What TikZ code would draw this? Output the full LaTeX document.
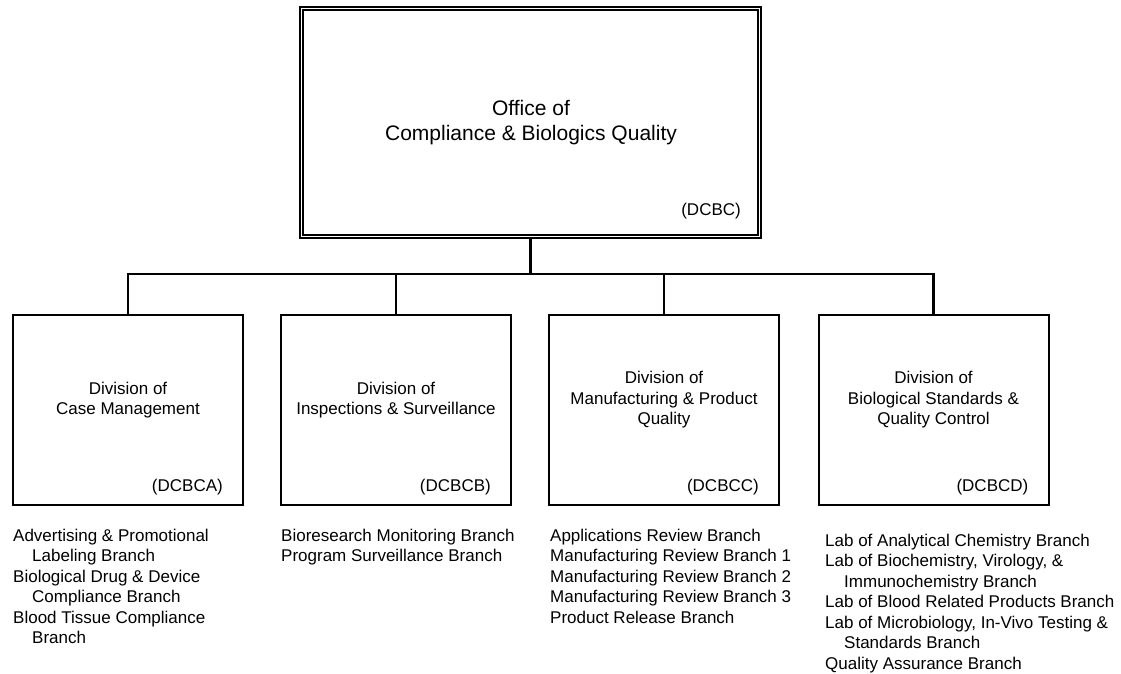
\documentclass[tikz,border=0pt]{standalone}
\usepackage{fontspec}
\setmainfont{Liberation Sans}
\begin{document}
\begin{tikzpicture}[x=1pt,y=-1pt,
  boxline/.style={draw=black,line width=2pt},
  divbox/.style={boxline,minimum width=230pt,minimum height=190pt,inner sep=0pt},
  title/.style={align=center,inner sep=0pt,font=\fontsize{17}{20.5}\selectfont},
  codelbl/.style={anchor=base east,inner sep=0pt,font=\fontsize{17}{20.5}\selectfont},
  branchlist/.style={anchor=base west,inner sep=0pt,font=\fontsize{17}{20.5}\selectfont},
  link/.style={draw=black,line width=2.2pt}]
\useasboundingbox (0,0) rectangle (1121,673);
\newcommand{\ind}{\hspace*{19pt}}

% Office box with double frame
\node[boxline,minimum width=461pt,minimum height=231pt,inner sep=0pt] (office) at (530.5,122.5) {};
\draw[line width=1.5pt] ([shift={(4,4)}]office.north west) rectangle ([shift={(-4,-4)}]office.south east);
\node[align=center,inner sep=0pt,font=\fontsize{21}{25}\selectfont] (officetitle) at (531,123)
  {Office of\\Compliance \& Biologics Quality};
\node[anchor=base east,inner sep=0pt,font=\fontsize{17}{20.5}\selectfont] (officecode)
  at ([shift={(-21,-24)}]office.south east) {(DCBC)};

% Division boxes
\node[divbox] (dA) at (128,410) {};
\node[divbox] (dB) at (396,410) {};
\node[divbox] (dC) at (664,410) {};
\node[divbox] (dD) at (933.5,410) {};

\node[title] (tA) at ([yshift=10]dA.center) {Division of\\Case Management};
\node[title] (tB) at ([yshift=10]dB.center) {Division of\\Inspections \& Surveillance};
\node[title] (tC) at ([yshift=10]dC.center) {Division of\\Manufacturing \& Product\\Quality};
\node[title] (tD) at ([yshift=10]dD.center) {Division of\\Biological Standards \&\\Quality Control};

\node[codelbl] (cA) at ([shift={(-21,-15)}]dA.south east) {(DCBCA)};
\node[codelbl] (cB) at ([shift={(-21,-15)}]dB.south east) {(DCBCB)};
\node[codelbl] (cC) at ([shift={(-21,-15)}]dC.south east) {(DCBCC)};
\node[codelbl] (cD) at ([shift={(-21,-15)}]dD.south east) {(DCBCD)};

% Connectors
\coordinate (bus) at (530,274);
\draw[link] (office.south) -- (office.south |- bus);
\draw[link] (dA.north) -- (dA.north |- bus) -- (dD.north |- bus) -- (dD.north);
\draw[link] (dB.north) -- (dB.north |- bus);
\draw[link] (dC.north) -- (dC.north |- bus);

% Branch lists
\node[branchlist] (lA) at (13,541) {\begin{tabular}[t]{@{}l@{}}
Advertising \& Promotional\\
\ind Labeling Branch\\
Biological Drug \& Device\\
\ind Compliance Branch\\
Blood Tissue Compliance\\
\ind Branch
\end{tabular}};
\node[branchlist] (lB) at (281,541) {\begin{tabular}[t]{@{}l@{}}
Bioresearch Monitoring Branch\\
Program Surveillance Branch
\end{tabular}};
\node[branchlist] (lC) at (550,541) {\begin{tabular}[t]{@{}l@{}}
Applications Review Branch\\
Manufacturing Review Branch 1\\
Manufacturing Review Branch 2\\
Manufacturing Review Branch 3\\
Product Release Branch
\end{tabular}};
\node[branchlist] (lD) at (825,546) {\begin{tabular}[t]{@{}l@{}}
Lab of Analytical Chemistry Branch\\
Lab of Biochemistry, Virology, \&\\
\ind Immunochemistry Branch\\
Lab of Blood Related Products Branch\\
Lab of Microbiology, In-Vivo Testing \&\\
\ind Standards Branch\\
Quality Assurance Branch
\end{tabular}};
\end{tikzpicture}
\end{document}
